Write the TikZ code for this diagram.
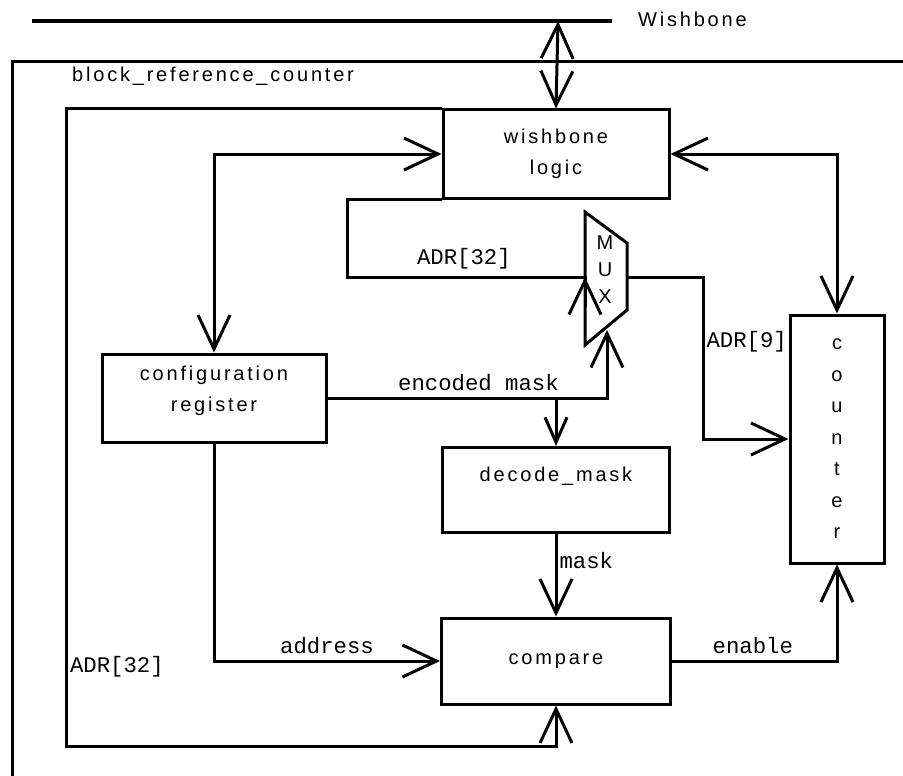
\documentclass[tikz,border=0pt]{standalone}
\usepackage{fontspec}
\newfontfamily\boxfont{Liberation Sans}[LetterSpace=14]
\newfontfamily\sigfont{Liberation Mono}
\usetikzlibrary{arrows.meta}
\usetikzlibrary{calc}

\begin{document}
\begin{tikzpicture}[x=1pt,y=-1pt,>={Straight Barb[length=34pt,width=32pt]}]
	\tikzset{block/.style = {shape=rectangle, draw, line width=3pt, align=center, inner sep=0pt, font=\boxfont\fontsize{20}{31}\selectfont}}
	\tikzset{wire/.style = {line width=3pt}}
	\tikzset{sig/.style = {font=\sigfont\fontsize{22.3}{26}\selectfont, inner xsep=2pt, inner ysep=6pt}}
	\tikzset{txt/.style = {font=\boxfont\fontsize{20}{27}\selectfont, inner sep=0pt}}
	\useasboundingbox (0,0) rectangle (903,776);
	
	% bus and outer block
	\draw[line width=3.5pt] (32,21) -- (612,21);
	\coordinate (bus) at (558,21);
	\node[txt, anchor=west] (wbname) at (638,19) {Wishbone};
	\draw[wire] (903,62) -- (12,62) -- (12,776);
	\node[txt, anchor=west] (title) at (72,76) {block\_reference\_counter};
	
	% blocks
	\node[block, minimum width=226pt, minimum height=88pt] (wb) at (556,154) {wishbone\\logic};
	\node[block, minimum width=224pt, minimum height=88pt] (cfg) at (214,398) {configuration\\register\\[-12pt]~};
	\node[block, minimum width=227pt, minimum height=85pt] (dec) at (556,490) {decode\_mask\\~};
	\node[block, minimum width=229pt, minimum height=86pt] (cmp) at (556,661) {compare};
	\node[block, minimum width=94pt, minimum height=248pt, font=\boxfont\fontsize{20}{31.5}\selectfont] (cnt) at (837,439) {c\\o\\u\\n\\t\\e\\r};
	
	% multiplexer
	\draw[wire] (585,212) -- (627,243) -- (627,310) -- (585,345) -- cycle;
	\node[txt, align=center] (mux) at (605,270) {M\\U\\X};
	\coordinate (mux in) at (585,277);
	\coordinate (mux sel) at (607,330);
	\coordinate (mux out) at (627,277);
	
	% connections
	\draw[wire,<->] (bus) -- (wb.north);
	\draw[wire,<->] (cfg.north) |- (wb.west);
	\draw[wire,<->] (wb.east) -| (cnt.north);
	\draw[wire,->] (wb.south west) -- ++(-94,0) |- node[sig, above, pos=0.745] {ADR[32]} (mux in) -- ++(0,30) -- (mux in);
	\draw[wire,->] (cfg.east) -| node[sig, above, pos=0.27] {encoded mask} (mux sel);
	\draw[wire,->,>={Straight Barb[length=25pt,width=22pt]}] (cfg.east -| dec.north) -- (dec.north);
	\draw[wire,->] (mux out) -- ++(76,0) |- node[sig, right, pos=0.2] {ADR[9]} (cnt.west);
	\draw[wire,->] (dec.south) -- node[sig, right, pos=0.32] {mask} (cmp.north);
	\draw[wire,->] (cmp.east) -| node[sig, above, pos=0.245] {enable} (cnt.south);
	\draw[wire,->] (cfg.south) |- node[sig, above, pos=0.75] {address} (cmp.west);
	\draw[wire,->] (wb.north west) -- ++(-375,0) -- node[sig, right, pos=0.875] {ADR[32]} ++(0,638) -| (cmp.south);
	
\end{tikzpicture}
\end{document}
